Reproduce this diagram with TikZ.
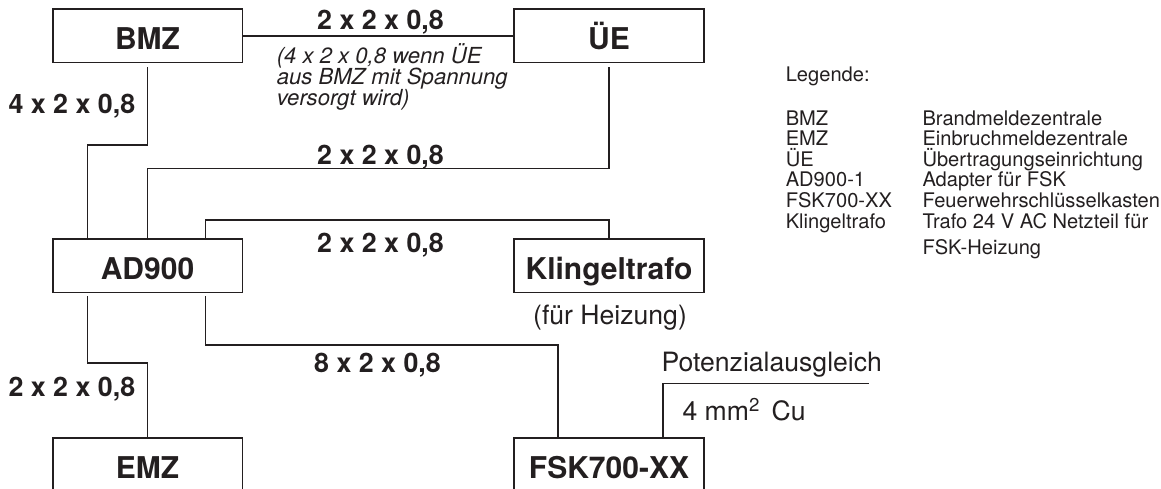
\documentclass[tikz,border=0pt]{standalone}
\usepackage{fontspec}
\setmainfont{TeX Gyre Heros}
\usepackage{xcolor}

\definecolor{wire}{RGB}{35,31,32}

\tikzset{
    unit/.style={draw=wire, line width=1.6pt, minimum width=189.6pt, minimum height=53.3pt,
        inner sep=0pt, text height=27.2pt, text depth=0pt, font=\fontsize{30}{36}\selectfont\bfseries},
    cable/.style={font=\fontsize{26.8}{30}\selectfont\bfseries, inner sep=0pt},
    note/.style={font=\fontsize{22.1}{23}\selectfont\itshape, inner sep=0pt, anchor=base west},
    plain/.style={font=\fontsize{26.6}{30}\selectfont, inner sep=0pt},
    legend/.style={font=\fontsize{20.1}{21}\selectfont, inner sep=0pt, anchor=base west},
}

\begin{document}
\begin{tikzpicture}[x=1pt, y=-1pt, line width=1.6pt, color=wire]
    \useasboundingbox (0,0) rectangle (1161,488);

    % units
    \node[unit] (bmz) at (147.5,35.7) {BMZ};
    \node[unit] (ue) at (609,35.7) {ÜE};
    \node[unit] (ad) at (147.5,265.7) {AD900};
    \node[unit] (kt) at (609,265.7) {Klingeltrafo};
    \node[unit] (emz) at (147.5,464.4) {EMZ};
    \node[unit] (fsk) at (609,464.4) {FSK700-XX};

    % cables
    \draw (bmz) -- (ue);
    \draw[shorten <=4pt] (bmz.south) -- ++(0,82) -| ([xshift=-60pt]ad.north);
    \draw[shorten <=4pt] (ue.south) -- ++(0,105.4) -| (ad.north);
    \draw ([xshift=58pt]ad.north) -- ++(0,-18) -| (kt.north);
    \draw[shorten <=3pt] ([xshift=-60pt]ad.south) -- ++(0,70) -| (emz.north);
    \draw[shorten <=3pt] ([xshift=58pt]ad.south) -- ++(0,52) -| ([xshift=-51pt]fsk.north);

    % potential equalisation
    \coordinate (pe) at (869,383.3);
    \draw ([xshift=54pt]fsk.north) |- (pe);

    % cable labels
    \node[cable, anchor=base] (c1) at (380.5,29.3) {2 x 2 x 0,8};
    \node[cable, anchor=base east] (c2) at (136,113.3) {4 x 2 x 0,8};
    \node[cable, anchor=base] (c3) at (380.5,164) {2 x 2 x 0,8};
    \node[cable, anchor=base] (c4) at (380.5,252.7) {2 x 2 x 0,8};
    \node[cable, anchor=base] (c5) at (377.5,372.3) {8 x 2 x 0,8};
    \node[cable, anchor=base east] (c6) at (136,396.7) {2 x 2 x 0,8};

    \foreach \txt [count=\i] in {{(4 x 2 x 0,8 wenn ÜE}, {aus BMZ mit Spannung}, {versorgt wird)}}
        \node[note] (note\i) at (276,42.5+21*\i) {\txt};

    \node[plain, anchor=base] (heiz) at (610,324.3) {(für Heizung)};
    \node[plain, anchor=base west] (pa) at (660.7,371) {Potenzialausgleich};
    \node[plain, anchor=base west] (cu) at (681.7,420.7) {4 mm\textsuperscript{2}\, Cu};

    % legend
    \node[legend] (leg) at (785,81.7) {Legende:};
    \foreach \abbr/\desc [count=\i] in {BMZ/Brandmeldezentrale, EMZ/Einbruchmeldezentrale,
        ÜE/Übertragungseinrichtung, AD900-1/Adapter für FSK, FSK700-XX/Feuerwehrschlüsselkasten,
        Klingeltrafo/Trafo 24 V AC Netzteil für} {
        \node[legend] (abbr\i) at (785,104.4+20.6*\i) {\abbr};
        \node[legend] (desc\i) at (921.7,104.4+20.6*\i) {\desc};
    }
    \node[legend] (desc7) at (921.7,254) {FSK-Heizung};

\end{tikzpicture}
\end{document}
